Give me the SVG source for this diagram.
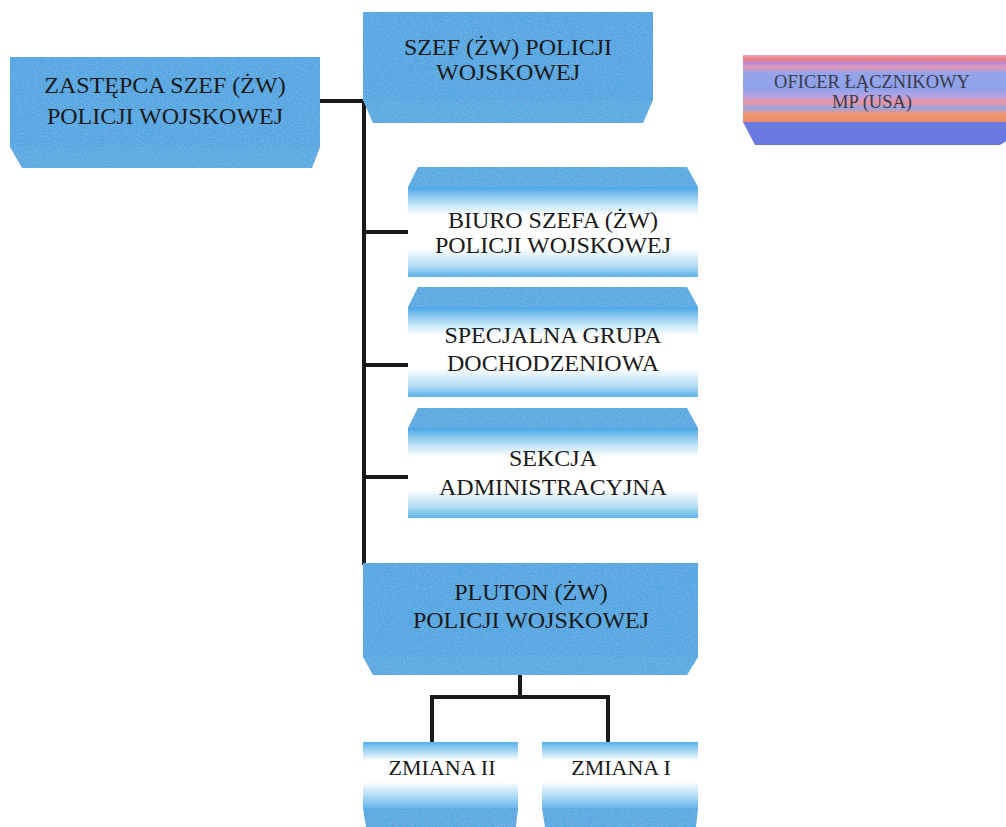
<svg xmlns="http://www.w3.org/2000/svg" width="1006" height="827" viewBox="0 0 1006 827">
<style>
.t{font-family:"Liberation Serif","Times New Roman",serif;font-size:24px;fill:#1a1a1a;text-anchor:middle}
.s{font-size:22px}
.o{font-size:18.5px;fill:#3a3a4a}
.face{fill:#4fa6e4}
.bev{fill:#55a9e4}
.conn{fill:none;stroke:#1a1a1a;stroke-width:4;stroke-linejoin:miter}
</style>
<defs>
<filter id="grain" x="0" y="0" width="1" height="1">
<feTurbulence type="fractalNoise" baseFrequency="0.9" numOctaves="2" seed="3" result="n"/>
<feColorMatrix in="n" type="matrix" values="0 0 0 0 0.3  0 0 0 0 0.5  0 0 0 0 0.72  0 0 0 1.4 -0.55" result="m"/>
<feComposite in="m" in2="SourceGraphic" operator="in" result="tx"/>
<feMerge><feMergeNode in="SourceGraphic"/><feMergeNode in="tx"/></feMerge>
</filter>
<linearGradient id="gFade" x1="0" y1="0" x2="0" y2="1">
<stop offset="0" stop-color="#4aa6e6"/>
<stop offset="0.2" stop-color="#c4e6f8"/>
<stop offset="0.32" stop-color="#ffffff"/>
<stop offset="0.68" stop-color="#ffffff"/>
<stop offset="0.88" stop-color="#b2dcf4"/>
<stop offset="1" stop-color="#5cb2e9"/>
</linearGradient>
<linearGradient id="gZm" x1="0" y1="0" x2="0" y2="1">
<stop offset="0" stop-color="#55b0ea"/>
<stop offset="0.28" stop-color="#ffffff"/>
<stop offset="0.6" stop-color="#ffffff"/>
<stop offset="1" stop-color="#62b6ec"/>
</linearGradient>
<linearGradient id="gOf" x1="0" y1="0" x2="0" y2="1">
<stop offset="0" stop-color="#f0a8b8"/>
<stop offset="0.06" stop-color="#f07a7a"/>
<stop offset="0.12" stop-color="#b48ad8"/>
<stop offset="0.18" stop-color="#e894b6"/>
<stop offset="0.26" stop-color="#96a4ea"/>
<stop offset="0.5" stop-color="#8ea2ea"/>
<stop offset="0.6" stop-color="#b6a2e2"/>
<stop offset="0.7" stop-color="#e8949e"/>
<stop offset="0.78" stop-color="#98a4e6"/>
<stop offset="0.86" stop-color="#f09676"/>
<stop offset="1" stop-color="#f08a64"/>
</linearGradient>
</defs>

<g id="connectors">
<path class="conn" d="M320,101 H364 V565"/>
<path class="conn" d="M364,232 H408"/>
<path class="conn" d="M364,365 H408"/>
<path class="conn" d="M364,477 H408"/>
<path class="conn" d="M520,675 V697"/>
<path class="conn" d="M432,742 V697 H608 V742"/>
</g>

<g id="zastepca">
<g filter="url(#grain)">
<rect class="face" x="10" y="57" width="310" height="91"/>
<polygon class="bev" points="10,147 320,147 312,168 22,168"/>
</g>
<text class="t" x="165" y="93">ZASTĘPCA SZEF (ŻW)</text>
<text class="t" x="165" y="124">POLICJI WOJSKOWEJ</text>
</g>

<g id="szef">
<g filter="url(#grain)">
<rect class="face" x="363" y="12" width="290" height="89"/>
<polygon class="bev" points="363,100 653,100 643,123 373,123"/>
</g>
<text class="t" x="508" y="55">SZEF (ŻW) POLICJI</text>
<text class="t" x="508" y="80">WOJSKOWEJ</text>
</g>

<g id="oficer">
<rect x="743" y="55" width="265" height="68" fill="url(#gOf)"/>
<polygon points="743,122 1008,122 1008,140 1000,145 755,145" fill="#6a7ae0"/>
<text class="t o" x="872" y="88">OFICER ŁĄCZNIKOWY</text>
<text class="t o" x="872" y="108">MP (USA)</text>
</g>

<g id="biuro">
<polygon class="bev" points="418,167 687,167 698,187 408,187" filter="url(#grain)"/>
<rect x="408" y="187" width="290" height="90" fill="url(#gFade)"/>
<text class="t" x="553" y="228">BIURO SZEFA (ŻW)</text>
<text class="t" x="553" y="253">POLICJI WOJSKOWEJ</text>
</g>

<g id="specjalna">
<polygon class="bev" points="418,287 687,287 698,307 408,307" filter="url(#grain)"/>
<rect x="408" y="307" width="290" height="90" fill="url(#gFade)"/>
<text class="t" x="553" y="343">SPECJALNA GRUPA</text>
<text class="t" x="553" y="371">DOCHODZENIOWA</text>
</g>

<g id="sekcja">
<polygon class="bev" points="418,408 687,408 698,428 408,428" filter="url(#grain)"/>
<rect x="408" y="428" width="290" height="90" fill="url(#gFade)"/>
<text class="t" x="553" y="466">SEKCJA</text>
<text class="t" x="553" y="495">ADMINISTRACYJNA</text>
</g>

<g id="pluton">
<g filter="url(#grain)">
<rect class="face" x="363" y="563" width="335" height="95"/>
<polygon class="bev" points="363,657 698,657 687,675 373,675"/>
</g>
<text class="t" x="531" y="600">PLUTON (ŻW)</text>
<text class="t" x="531" y="628">POLICJI WOJSKOWEJ</text>
</g>

<g id="zmiana2">
<rect x="363" y="742" width="155" height="67" fill="url(#gZm)"/>
<polygon class="bev" points="363,808 518,808 516,827 366,827" filter="url(#grain)"/>
<text class="t s" x="442" y="775">ZMIANA II</text>
</g>

<g id="zmiana1">
<rect x="542" y="742" width="156" height="67" fill="url(#gZm)"/>
<polygon class="bev" points="542,808 698,808 696,827 545,827" filter="url(#grain)"/>
<text class="t s" x="621" y="775">ZMIANA I</text>
</g>
</svg>
